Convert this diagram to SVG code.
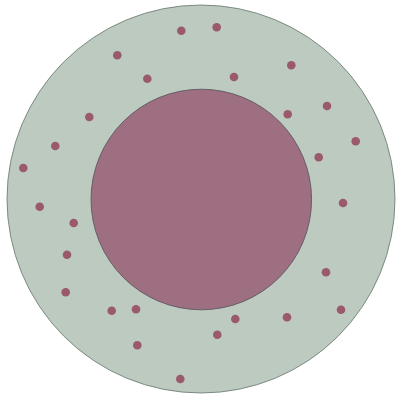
<svg xmlns="http://www.w3.org/2000/svg" width="396" height="394" viewBox="0 0 396 394">
<style>
.outer{fill:#bccac0;stroke:#66756b;stroke-width:0.8}
.inner{fill:#9e6f80;stroke:#55505a;stroke-width:0.8}
.dot{fill:#9a5a6c}
</style>
<rect width="396" height="394" fill="#ffffff"/>
<g id="outer-ring"><circle class="outer" cx="201" cy="199" r="194"/></g>
<g id="inner-core"><circle class="inner" cx="201.3" cy="199.5" r="110.3"/></g>
<g id="particles">
<circle class="dot" cx="181.3" cy="30.7" r="4.3"/>
<circle class="dot" cx="117.3" cy="55.3" r="4.3"/>
<circle class="dot" cx="147.3" cy="78.7" r="4.3"/>
<circle class="dot" cx="89.3" cy="117" r="4.3"/>
<circle class="dot" cx="55.3" cy="146" r="4.3"/>
<circle class="dot" cx="23.3" cy="168" r="4.3"/>
<circle class="dot" cx="216.7" cy="27.3" r="4.3"/>
<circle class="dot" cx="291.3" cy="65.3" r="4.3"/>
<circle class="dot" cx="234" cy="77" r="4.3"/>
<circle class="dot" cx="327" cy="106" r="4.3"/>
<circle class="dot" cx="287.7" cy="114.3" r="4.3"/>
<circle class="dot" cx="355.7" cy="141.3" r="4.3"/>
<circle class="dot" cx="318.7" cy="157.3" r="4.3"/>
<circle class="dot" cx="343" cy="203" r="4.3"/>
<circle class="dot" cx="39.7" cy="206.7" r="4.3"/>
<circle class="dot" cx="73.7" cy="223" r="4.3"/>
<circle class="dot" cx="67" cy="254.7" r="4.3"/>
<circle class="dot" cx="65.7" cy="292.3" r="4.3"/>
<circle class="dot" cx="111.7" cy="310.7" r="4.3"/>
<circle class="dot" cx="136" cy="309.3" r="4.3"/>
<circle class="dot" cx="137.3" cy="345.3" r="4.3"/>
<circle class="dot" cx="180.3" cy="379" r="4.3"/>
<circle class="dot" cx="326" cy="272.3" r="4.3"/>
<circle class="dot" cx="341" cy="309.7" r="4.3"/>
<circle class="dot" cx="287" cy="317.3" r="4.3"/>
<circle class="dot" cx="235.3" cy="319" r="4.3"/>
<circle class="dot" cx="217.3" cy="334.7" r="4.3"/>
</g>
</svg>
